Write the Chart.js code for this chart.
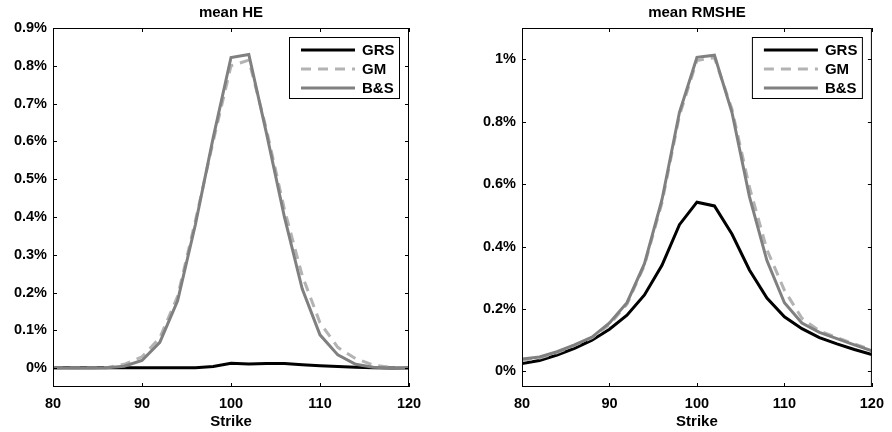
<!DOCTYPE html>
<html>
<head>
<meta charset="utf-8">
<script src="https://cdn.jsdelivr.net/npm/chart.js@4.4.1/dist/chart.umd.min.js"></script>
<style>
  body { margin: 0; background: #fff; }
  .wrap { position: relative; width: 892px; height: 432px; }
  canvas { position: absolute; top: 0; }
  #heChart { left: 0; }
  #rmsChart { left: 446px; }
</style>
</head>
<body>
<div class="wrap">
  <canvas id="heChart" width="446" height="432"></canvas>
  <canvas id="rmsChart" width="446" height="432"></canvas>
</div>
<script>
// strike grid (x)
const STRIKES = [80, 82, 84, 86, 88, 90, 92, 94, 96, 98, 100, 102, 104, 106, 108, 110, 112, 114, 116, 118, 120];
const X_TICKS = [80, 90, 100, 110, 120];

// mean HE (%)
const HE_GRS = [0.001, 0.001, 0.001, 0.001, 0.001, 0.001, 0.001, 0.001, 0.001, 0.004, 0.013, 0.011, 0.012, 0.012, 0.009, 0.006, 0.004, 0.002, 0.001, 0.0005, 0.0003];
const HE_GM  = [0, 0, 0, 0.001, 0.01, 0.03, 0.08, 0.19, 0.39, 0.60, 0.80, 0.815, 0.63, 0.42, 0.245, 0.12, 0.055, 0.025, 0.008, 0.002, 0];
const HE_BS  = [0, 0, 0, 0.001, 0.005, 0.02, 0.068, 0.178, 0.38, 0.61, 0.822, 0.83, 0.62, 0.40, 0.21, 0.088, 0.035, 0.01, 0.002, 0, 0];
const HE_Y_TICKS = [0, 0.1, 0.2, 0.3, 0.4, 0.5, 0.6, 0.7, 0.8, 0.9];

// mean RMSHE (%)
const RMS_GRS = [0.025, 0.035, 0.052, 0.074, 0.1, 0.135, 0.18, 0.245, 0.34, 0.47, 0.542, 0.53, 0.44, 0.325, 0.235, 0.175, 0.137, 0.108, 0.088, 0.07, 0.054];
const RMS_GM  = [0.036, 0.043, 0.06, 0.083, 0.108, 0.15, 0.215, 0.34, 0.54, 0.82, 0.996, 1.005, 0.84, 0.59, 0.39, 0.26, 0.17, 0.13, 0.108, 0.088, 0.069];
const RMS_BS  = [0.04, 0.046, 0.063, 0.085, 0.11, 0.155, 0.22, 0.345, 0.55, 0.83, 1.006, 1.013, 0.83, 0.56, 0.355, 0.22, 0.155, 0.125, 0.105, 0.085, 0.066];
const RMS_Y_TICKS = [0, 0.2, 0.4, 0.6, 0.8, 1];

const FONT = "'Liberation Sans', Arial, sans-serif";

function pts(values){
    return STRIKES.map((x, i) => ({ x: x, y: values[i] }));
}

// MATLAB風の枠・内向き目盛り・タイトル・凡例を描く
const matlabBox = {
    id: 'matlabBox',
    afterDraw(chart, args, opts){
        const ctx = chart.ctx;
        const a   = chart.chartArea;
        const xs  = chart.scales.x;
        const ys  = chart.scales.y;
        ctx.save();
        ctx.strokeStyle = '#000';
        ctx.lineWidth = 1;
        ctx.strokeRect(a.left + 0.5, a.top + 0.5, a.right - a.left - 1, a.bottom - a.top - 1);

        const tl = 4;
        ctx.beginPath();
        for (let t of xs.ticks){
            const px = Math.round(xs.getPixelForValue(t.value)) + 0.5;
            ctx.moveTo(px, a.bottom); ctx.lineTo(px, a.bottom - tl);
            ctx.moveTo(px, a.top);    ctx.lineTo(px, a.top + tl);
        }
        for (let t of ys.ticks){
            const py = Math.round(ys.getPixelForValue(t.value)) + 0.5;
            ctx.moveTo(a.left, py);  ctx.lineTo(a.left + tl, py);
            ctx.moveTo(a.right, py); ctx.lineTo(a.right - tl, py);
        }
        ctx.stroke();

        // title
        ctx.fillStyle = '#000';
        ctx.font = 'bold 15px ' + FONT;
        ctx.textAlign = 'center';
        ctx.textBaseline = 'alphabetic';
        ctx.fillText(opts.text, (a.left + a.right) / 2, 17);

        // legend
        const bw = 111, bh = 62;
        const bx = a.right - 9 - bw, by = a.top + 9;
        ctx.fillStyle = '#fff';
        ctx.fillRect(bx, by, bw, bh);
        ctx.strokeStyle = '#000';
        ctx.lineWidth = 1;
        ctx.strokeRect(bx + 0.5, by + 0.5, bw - 1, bh - 1);
        const rows = [13, 32, 51];
        chart.data.datasets.forEach((ds, i) => {
            const y = by + rows[i];
            ctx.strokeStyle = ds.borderColor;
            ctx.lineWidth = ds.borderWidth;
            ctx.setLineDash(ds.borderDash || []);
            ctx.beginPath();
            ctx.moveTo(bx + 12, y); ctx.lineTo(bx + 66, y);
            ctx.stroke();
            ctx.setLineDash([]);
            ctx.fillStyle = '#000';
            ctx.textAlign = 'left';
            ctx.textBaseline = 'middle';
            ctx.fillText(ds.label, bx + 73, y + 1);
        });
        ctx.restore();
    }
};

function makeChart(id, title, grs, gm, bs, yMin, yMax, yTicks, yAxisWidth, padRight){
    const ctx = document.getElementById(id).getContext('2d');
    return new Chart(ctx, {
        type: 'line',
        data: {
            datasets: [
                { label: 'GRS', data: pts(grs), borderColor: '#000000', borderWidth: 3, order: 2 },
                { label: 'GM',  data: pts(gm),  borderColor: '#b3b3b3', borderWidth: 3, borderDash: [10, 7], order: 1 },
                { label: 'B&S', data: pts(bs),  borderColor: '#808080', borderWidth: 3, order: 0 },
            ]
        },
        options: {
            responsive: false,
            animation: false,
            events: [],
            elements: { point: { radius: 0 }, line: { tension: 0, borderJoinStyle: 'miter' } },
            layout: { padding: { top: 28, right: padRight, bottom: 0, left: 0 } },
            plugins: {
                legend: { display: false },
                tooltip: { enabled: false },
                matlabBox: { text: title }
            },
            scales: {
                x: {
                    type: 'linear',
                    min: 80, max: 120,
                    afterBuildTicks: (s) => { s.ticks = X_TICKS.map(v => ({ value: v })); },
                    afterFit: (s) => { s.height = 45; },
                    grid: { display: false, drawTicks: false },
                    border: { display: false },
                    ticks: { padding: 8, color: '#000', font: { family: FONT, size: 14.5, weight: 'bold' } },
                    title: { display: true, text: 'Strike', color: '#000', padding: { top: 0, bottom: 1 },
                             font: { family: FONT, size: 15, weight: 'bold' } }
                },
                y: {
                    type: 'linear',
                    min: yMin, max: yMax,
                    afterBuildTicks: (s) => { s.ticks = yTicks.map(v => ({ value: v })); },
                    afterFit: (s) => { s.width = yAxisWidth; },
                    grid: { display: false, drawTicks: false },
                    border: { display: false },
                    ticks: {
                        padding: 6, color: '#000',
                        font: { family: FONT, size: 14.5, weight: 'bold' },
                        callback: (v) => (+v.toFixed(2)) + '%'
                    }
                }
            }
        },
        plugins: [matlabBox]
    });
}

window.addEventListener('load', function(){
    makeChart('heChart',  'mean HE',    HE_GRS,  HE_GM,  HE_BS,  -0.05, 0.9, HE_Y_TICKS,  53, 37);
    makeChart('rmsChart', 'mean RMSHE', RMS_GRS, RMS_GM, RMS_BS, -0.05, 1.1, RMS_Y_TICKS, 76, 14);
});
</script>
</body>
</html>
